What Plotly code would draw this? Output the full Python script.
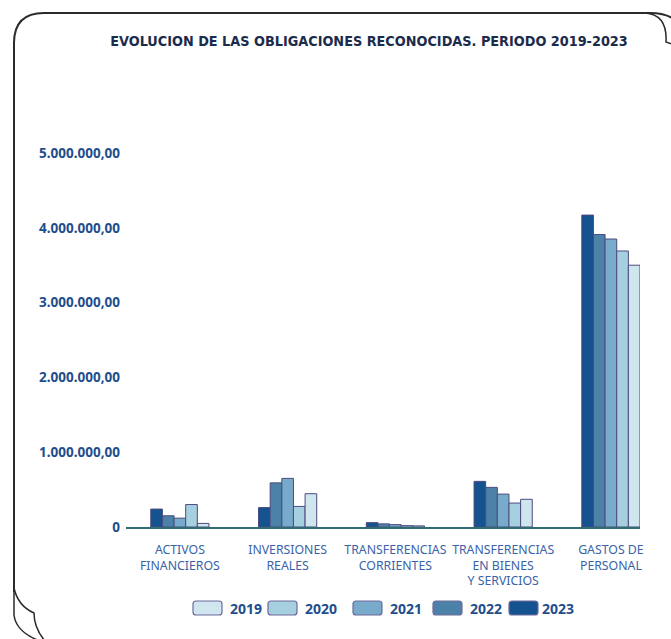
import plotly.graph_objects as go

# Budget chapters (x categories)
categories = [
    "ACTIVOS<br>FINANCIEROS",
    "INVERSIONES<br>REALES",
    "TRANSFERENCIAS<br>CORRIENTES",
    "TRANSFERENCIAS<br>EN BIENES<br>Y SERVICIOS",
    "GASTOS DE<br>PERSONAL",
]

# Recognised obligations per year (euros)
years = ["2023", "2022", "2021", "2020", "2019"]
values_2023 = [240000, 260000, 58000, 610000, 4170000]
values_2022 = [150000, 590000, 42000, 530000, 3910000]
values_2021 = [118000, 650000, 32000, 440000, 3850000]
values_2020 = [300000, 275000, 18000, 320000, 3690000]
values_2019 = [48000, 445000, 15000, 370000, 3500000]
series = [values_2023, values_2022, values_2021, values_2020, values_2019]

colors = ["#14538f", "#4d82a8", "#77aacb", "#a6cfe0", "#cfe6ee"]
outline = "#4c4a7e"

tick_vals = [0, 1000000, 2000000, 3000000, 4000000, 5000000]
tick_text = ["0", "1.000.000,00", "2.000.000,00", "3.000.000,00",
             "4.000.000,00", "5.000.000,00"]

W, H = 671, 639
L, R, T, B = 126, 640, 100, 527  # plot area in pixels

fig = go.Figure()
for yr, vals, col in zip(years, series, colors):
    fig.add_trace(go.Bar(
        x=categories, y=vals, name=yr,
        marker=dict(color=col, line=dict(color=outline, width=1)),
        showlegend=False,
    ))


def px(x, y):
    """pixel position -> paper coordinates"""
    return (x - L) / (R - L), (B - y) / (B - T)


def path(points_cmds):
    out = []
    for cmd, pts in points_cmds:
        coords = " ".join("%.5f,%.5f" % px(*p) for p in pts)
        out.append((cmd + " " + coords).strip())
    return " ".join(out)


shapes = []
frame = dict(color="#2b2b2b", width=2)
# outer frame with rounded top-left corner
shapes.append(dict(type="path", xref="paper", yref="paper", line=frame,
                   path=path([("M", [(14, 592)]), ("L", [(14, 43)]),
                              ("Q", [(14, 13), (44, 13)]), ("L", [(650, 13)]),
                              ("Q", [(664, 13), (672, 18)])])))
# curled top-right corner
shapes.append(dict(type="path", xref="paper", yref="paper", line=dict(color="#2b2b2b", width=1.5),
                   path=path([("M", [(645, 13)]),
                              ("C", [(660, 14), (667, 24), (666, 42)]),
                              ("L", [(672, 44)])])))
# curled bottom-left corner
shapes.append(dict(type="path", xref="paper", yref="paper", line=dict(color="#2b2b2b", width=1.5),
                   path=path([("M", [(14, 588)]),
                              ("Q", [(18, 606), (34, 613)]),
                              ("Q", [(34, 628), (45, 641)])])))
shapes.append(dict(type="path", xref="paper", yref="paper", line=dict(color="#2b2b2b", width=1.5),
                   path=path([("M", [(14, 590)]), ("L", [(14, 615)]),
                              ("Q", [(16, 632), (40, 641)])])))

# legend swatches (2019 .. 2023)
legend_years = ["2019", "2020", "2021", "2022", "2023"]
legend_colors = colors[::-1]
box_x = [193, 268, 353, 433, 509]
annotations = []
for yr, col, bx in zip(legend_years, legend_colors, box_x):
    x0, x1, y0, y1 = bx, bx + 29, 601, 615
    r = 3
    shapes.append(dict(
        type="path", xref="paper", yref="paper",
        fillcolor=col, line=dict(color="#6e6a9c", width=1.2),
        path=path([("M", [(x0 + r, y0)]), ("L", [(x1 - r, y0)]),
                   ("Q", [(x1, y0), (x1, y0 + r)]), ("L", [(x1, y1 - r)]),
                   ("Q", [(x1, y1), (x1 - r, y1)]), ("L", [(x0 + r, y1)]),
                   ("Q", [(x0, y1), (x0, y1 - r)]), ("L", [(x0, y0 + r)]),
                   ("Q", [(x0, y0), (x0 + r, y0)]), ("Z", [])]),
    ))
    tx, ty = px(x1 + 6 if yr != "2023" else x1 + 2, 608)
    annotations.append(dict(
        x=tx, y=ty, xref="paper", yref="paper", text=yr, showarrow=False,
        xanchor="left", yanchor="middle",
        font=dict(family="Noto Sans", size=14, color="#1f4e8c", weight=700),
    ))

fig.update_layout(
    width=W, height=H,
    margin=dict(l=L, r=W - R, t=T, b=H - B, pad=0),
    paper_bgcolor="white", plot_bgcolor="white",
    barmode="group", bargap=0.46, bargroupgap=0,
    title=dict(
        text="EVOLUCION DE LAS OBLIGACIONES RECONOCIDAS. PERIODO 2019-2023",
        x=369 / W, xanchor="center", y=1 - 41 / H, yanchor="middle",
        font=dict(family="DejaVu Sans Condensed, Roboto", size=14.3,
                  color="#1b2b4b", weight=700),
    ),
    xaxis=dict(
        range=[-0.5, 4.27], showline=True, linecolor="#2f6d72", linewidth=1.5,
        showgrid=False, ticks="", ticklabelstandoff=10,
        tickfont=dict(family="Noto Sans", size=12.3, color="#3a63a8"),
    ),
    yaxis=dict(
        range=[0, (B - T) / 74.8 * 1e6], showgrid=False, zeroline=False,
        showline=False, ticks="", tickvals=tick_vals, ticktext=tick_text,
        ticklabelstandoff=5,
        tickfont=dict(family="Noto Sans", size=13.5, color="#1f4e8c", weight=700),
    ),
    shapes=shapes,
    annotations=annotations,
    showlegend=False,
)

fig.write_html("out.html")
